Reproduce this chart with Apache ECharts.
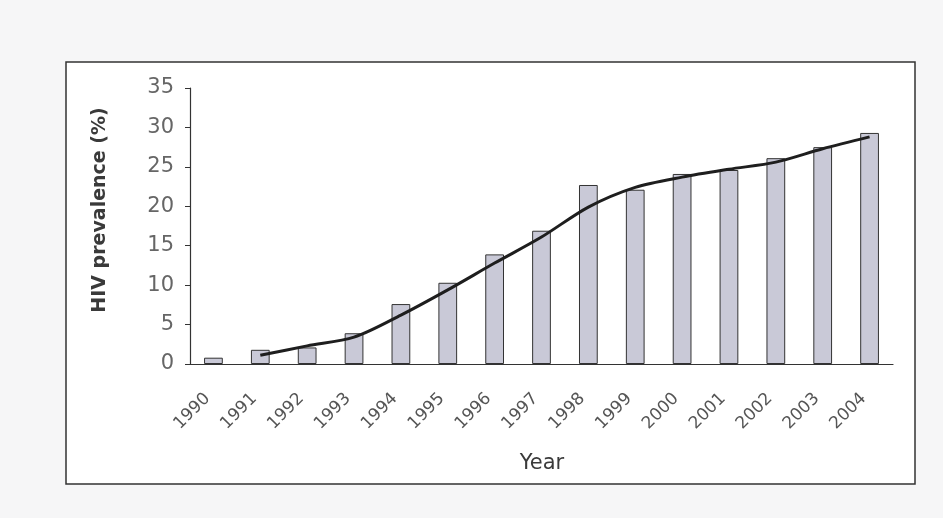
<!DOCTYPE html>
<html>
<head>
<meta charset="utf-8">
<script src="https://cdn.jsdelivr.net/npm/echarts@6/dist/echarts.min.js"></script>
<style>
  html, body { margin: 0; padding: 0; background: #f6f6f7; }
  #chart { width: 943px; height: 518px; }
</style>
</head>
<body>
<div id="chart"></div>
<script>
// data
var years = ['1990', '1991', '1992', '1993', '1994', '1995', '1996', '1997',
	'1998', '1999', '2000', '2001', '2002', '2003', '2004'];
var prevalence = [0.8, 1.8, 2.1, 3.9, 7.6, 10.3, 13.9, 16.9, 22.7, 22.1, 24.1, 24.6, 26.1, 27.5, 29.3];
var trend = ['-', 1.1, 2.3, 3.4, 6.2, 9.4, 12.8, 16.1, 19.9, 22.4, 23.7, 24.7, 25.6, 27.3, 28.8];
var yTicks = [0, 5, 10, 15, 20, 25, 30, 35];

var chart = echarts.init(document.getElementById('chart'));

var font = 'DejaVu Sans, Liberation Sans, Arial, sans-serif';

var option = {
	backgroundColor: '#f6f6f7',
	animation: false,
	textStyle: { fontFamily: font },
	grid: { left: 190, right: 50, top: 88, bottom: 154 },
	graphic: [
		{
			type: 'rect', z: -1,
			shape: { x: 66, y: 62, width: 849, height: 422 },
			style: { fill: '#ffffff', stroke: '#333', lineWidth: 1.5 }
		},
		{
			type: 'text', x: 100, y: 210, rotation: Math.PI / 2,
			style: {
				text: 'HIV prevalence (%)', fill: '#3a3a3a',
				font: 'bold 19px ' + font,
				align: 'center', verticalAlign: 'middle'
			}
		},
		{
			type: 'text', x: 542, y: 464,
			style: {
				text: 'Year', fill: '#3a3a3a',
				font: '21px ' + font,
				align: 'center', verticalAlign: 'middle'
			}
		}
	],
	xAxis: {
		type: 'category',
		data: years,
		boundaryGap: true,
		axisLine: { lineStyle: { color: '#333', width: 1.2 } },
		axisTick: { length: 4, lineStyle: { color: '#333' } },
		axisLabel: { rotate: 45, fontSize: 17, color: '#555', margin: 38, verticalAlign: 'bottom' }
	},
	yAxis: {
		type: 'value',
		min: yTicks[0],
		max: yTicks[yTicks.length - 1],
		interval: 5,
		axisLine: { show: true, lineStyle: { color: '#333', width: 1.2 } },
		axisTick: { show: true, length: 5, lineStyle: { color: '#333' } },
		splitLine: { show: false },
		axisLabel: { fontSize: 21, color: '#666', margin: 16 }
	},
	series: [
		{
			type: 'bar',
			data: prevalence,
			barWidth: '40%',
			itemStyle: { color: '#c9c9d7', borderColor: '#333', borderWidth: 1 }
		},
		{
			type: 'line',
			data: trend,
			smooth: 0.3,
			showSymbol: false,
			lineStyle: { color: '#1e1e1e', width: 3 },
			z: 3
		}
	]
};

chart.setOption(option);
</script>
</body>
</html>
